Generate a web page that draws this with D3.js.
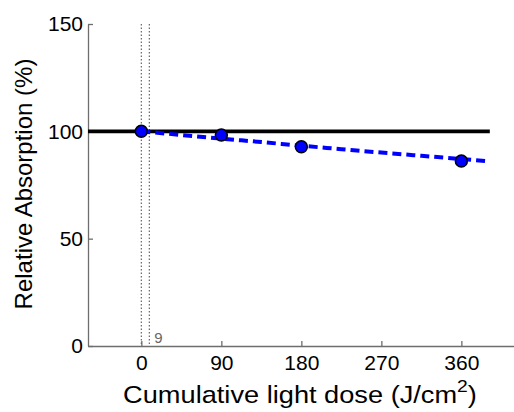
<!DOCTYPE html>
<html><head><meta charset="utf-8">
<script src="https://cdn.jsdelivr.net/npm/d3@7"></script>
<style>body{margin:0;background:#fff}svg{display:block;font-family:"Liberation Sans",Arial,sans-serif}</style>
</head><body><div id="chart"></div>
<script>
const doseX = [0, 90, 180, 360];
const absorptionY = [100, 98.3, 92.8, 86.2];
const fitX = [0, 45, 90, 135, 180, 225, 270, 315, 360, 392];
const fitY = [100, 98.3, 96.6, 95.0, 93.3, 91.7, 90.1, 88.6, 87.1, 86.0];
const referenceY = 100;
const referenceX = [-60, 392];
const markerLines = [0, 9];
const markerLabel = "9";
const xTicks = [0, 90, 180, 270, 360];
const yTicks = [0, 50, 100, 150];

const W = 514, H = 412;
const svg = d3.select("#chart").append("svg").attr("width", W).attr("height", H);
const x = d3.scaleLinear().domain([-60, 430]).range([88, 523.6]);
const y = d3.scaleLinear().domain([0, 150]).range([346, 24]);

const g = svg.append("g");
const FF = "Liberation Sans, Arial, sans-serif";
// axes
const xAxis = g.append("g").attr("transform", `translate(0,${y(0)})`)
  .call(d3.axisBottom(x).tickValues(xTicks).tickSizeInner(-5).tickSizeOuter(0).tickPadding(0));
xAxis.selectAll(".tick text").attr("y", 24).attr("dy", null);
const yAxis = g.append("g").attr("transform", `translate(${x(-60)},0)`)
  .call(d3.axisLeft(y).tickValues(yTicks).tickSizeInner(-5).tickSizeOuter(0).tickPadding(5));
[xAxis, yAxis].forEach(a => {
  a.select(".domain").attr("stroke", "#6e6e6e").attr("stroke-width", 1.3);
  a.selectAll(".tick line").attr("stroke", "#6e6e6e").attr("stroke-width", 1.3);
  a.selectAll(".tick text").attr("fill", "#000").style("font-size", "21px").style("font-family", FF);
});

// dotted vertical lines
g.selectAll(".vline").data(markerLines).join("line")
  .attr("x1", d => x(d)).attr("x2", d => x(d))
  .attr("y1", y(150)).attr("y2", y(0))
  .attr("stroke", "#666").attr("stroke-width", 1.2).attr("stroke-dasharray", "1.5,2");
g.append("text").attr("x", x(9) + 5).attr("y", 343).text(markerLabel)
  .attr("fill", "#666").style("font-size", "15px");

// reference line
g.append("line").attr("x1", x(referenceX[0])).attr("x2", x(referenceX[1]))
  .attr("y1", y(referenceY)).attr("y2", y(referenceY))
  .attr("stroke", "#000").attr("stroke-width", 3.8);

// fit line
const fit = fitX.map((d, i) => [d, fitY[i]]);
g.append("path").datum(fit)
  .attr("d", d3.line().x(d => x(d[0])).y(d => y(d[1])).curve(d3.curveMonotoneX))
  .attr("fill", "none").attr("stroke", "#0000ff").attr("stroke-width", 4)
  .attr("stroke-dasharray", "9,5");

// points
g.selectAll(".pt").data(doseX.map((d, i) => [d, absorptionY[i]])).join("circle")
  .attr("cx", d => x(d[0])).attr("cy", d => y(d[1])).attr("r", 6)
  .attr("fill", "#0000ff").attr("stroke", "#000").attr("stroke-width", 1.5);

// titles
const xtg = svg.append("g");
const xt = xtg.append("text").attr("x", 0).attr("y", 0).attr("text-anchor", "middle")
  .style("font-size", "24px").attr("fill", "#000");
xt.append("tspan").text("Cumulative light dose (J/cm");
xt.append("tspan").text("2").attr("dy", -11).style("font-size", "17px");
xt.append("tspan").text(")").attr("dy", 11);
const bw = xt.node().getBBox().width;
xtg.attr("transform", `translate(300,403) scale(${354 / bw},1)`);

svg.append("text").attr("transform", "translate(32,184) rotate(-90)").attr("text-anchor", "middle")
  .style("font-size", "24px").attr("fill", "#000").text("Relative Absorption (%)");
</script></body></html>
